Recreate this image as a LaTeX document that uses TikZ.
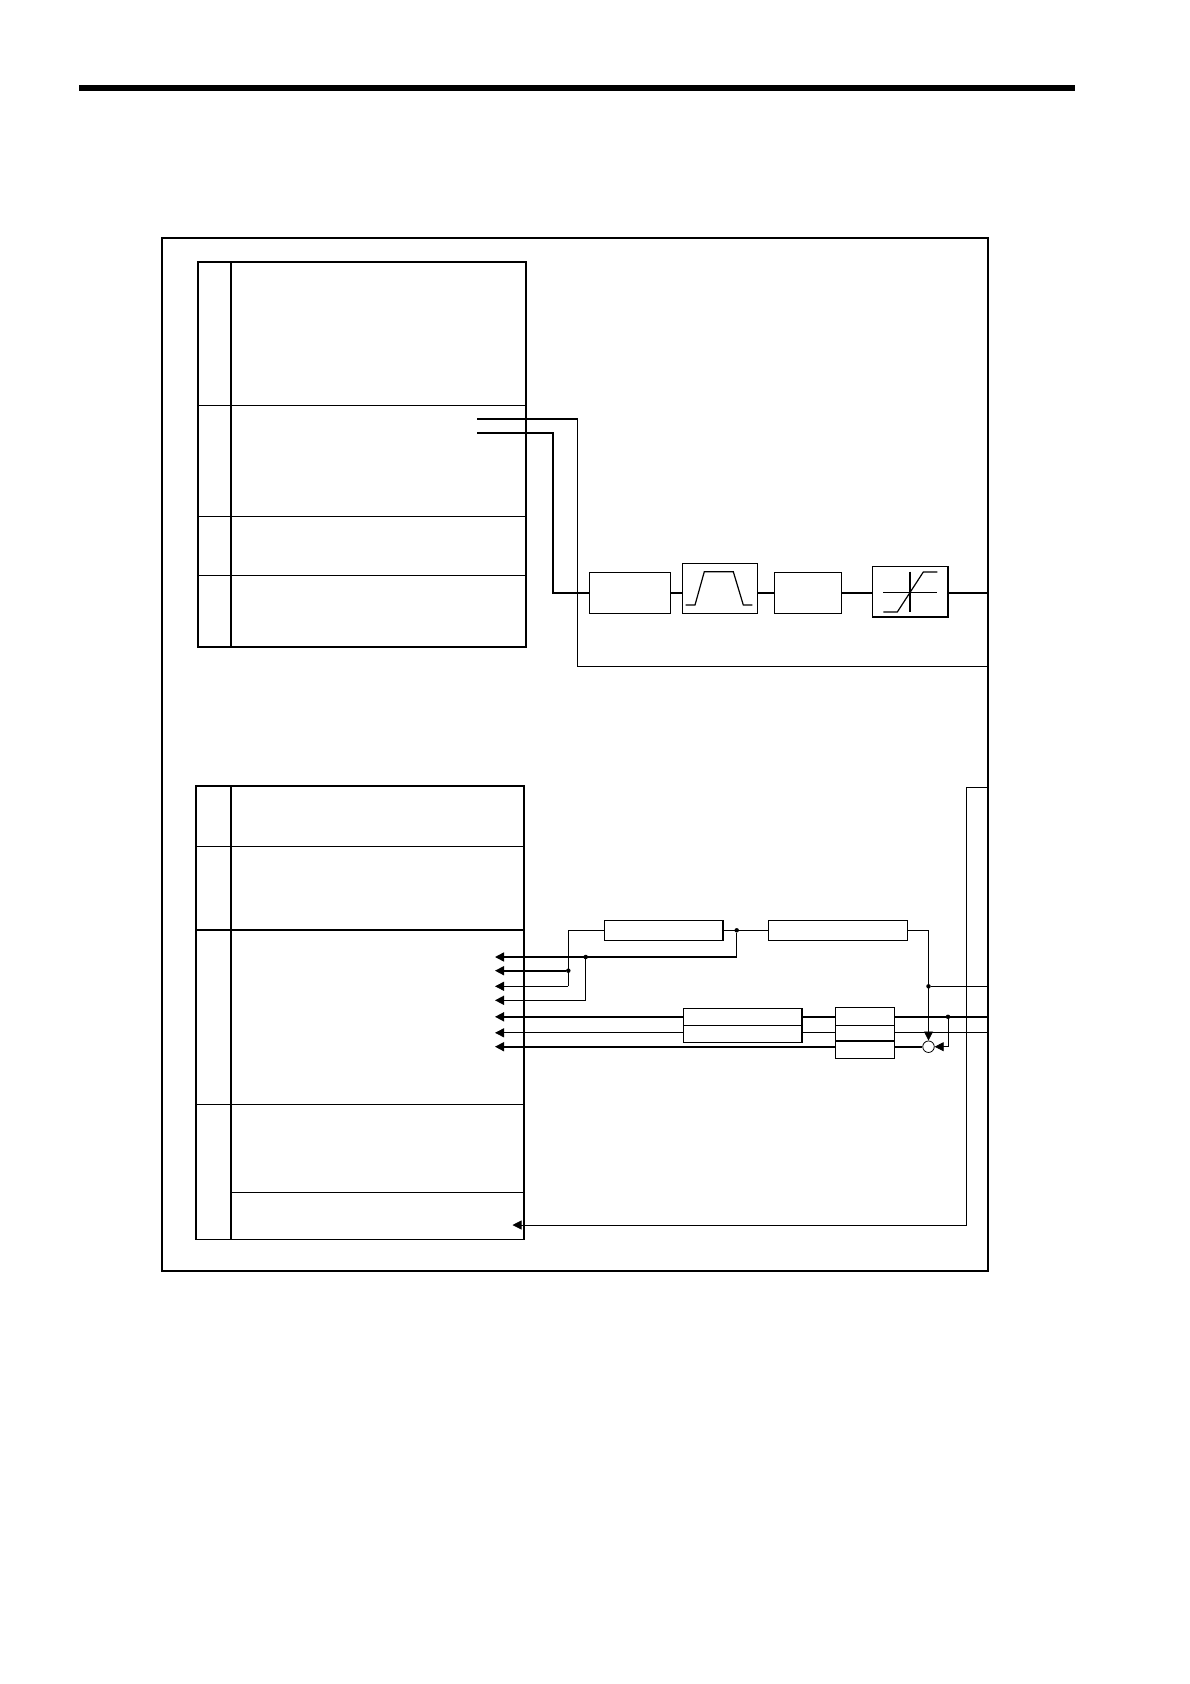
\documentclass[tikz,border=0pt]{standalone}
\usetikzlibrary{arrows.meta}
\begin{document}
\begin{tikzpicture}[x=1pt,y=-1pt,
  thk/.style={line width=1.6pt},
  thn/.style={line width=0.8pt},
  med/.style={line width=1.2pt},
  blk/.style={draw, line width=1.2pt, inner sep=0pt, outer sep=0pt},
  dot/.style={circle, fill, inner sep=0pt, minimum size=4.5pt},
  arr/.style={-{Triangle[length=9pt,width=9pt]}},
  line join=miter]
\useasboundingbox (0,0) rectangle (1190,1684);
% top rule
\draw[line width=6pt] (79,88) -- (1075,88);
% outer frame
\node[draw, thk, inner sep=0pt, outer sep=0pt, minimum width=826pt, minimum height=1033pt, anchor=north west] (frame) at (162,238) {};
% ---------------- upper module ----------------
\node[draw, thk, inner sep=0pt, outer sep=0pt, minimum width=328pt, minimum height=385pt, anchor=north west] (um) at (198,262) {};
\draw[thk] (231,262) -- (231,647);
\draw[thn] (198,405) -- (526,405);
\draw[thn] (198,516) -- (526,516);
\draw[thn] (198,575.3) -- (526,575.3);
\coordinate (s1) at (477,419);
\coordinate (s2) at (477,432.7);
\coordinate (k1) at (577.7,419);
\coordinate (k2) at (553,432.7);
\coordinate (sig) at (0,593.3);
\coordinate (fb) at (0,666);
% chain blocks
\node[blk, minimum width=81pt, minimum height=41pt] (b1) at (629.8,592.8) {};
\node[blk, line width=0.8pt, minimum width=75.4pt, minimum height=50pt] (b2) at (720,588.3) {};
\node[blk, minimum width=66.6pt, minimum height=41pt] (b3) at (808,592.8) {};
\node[blk, line width=1.6pt, minimum width=75.4pt, minimum height=50.3pt] (b4) at (910,591.8) {};
% trapezoid
\draw[med] (685.7,605) -- (695,605) -- (704.3,571.7) -- (733.3,571.7) -- (743.3,605) -- (752.3,605);
% saturation
\draw[med] (883.3,592.7) -- (937.3,592.7);
\draw[med] (910,571.7) -- (910,611.7);
\draw[med] (883.3,612) -- (897.3,612) -- (923.3,572) -- (937.3,572);
% lines
\draw[thk] (s1) -- (k1);
\draw[thn] (k1) -- (k1 |- fb) -- (frame.east |- fb);
\draw[thk] (s2) -- (k2) -- (k2 |- b1.west) -- (b1.west);
\draw[thk] (b1.east) -- (b2.west |- b1.east);
\draw[thk] (b2.east |- b1.east) -- (b3.west);
\draw[thk] (b3.east) -- (b4.west |- b3.east);
\draw[thk] (b4.east |- b3.east) -- (frame.east |- b3.east);
% ---------------- lower module ----------------
\node[draw, thk, inner sep=0pt, outer sep=0pt, minimum width=328pt, minimum height=453.3pt, anchor=north west] (lm) at (196,786) {};
\draw[thk] (231,786) -- (231,1239.3);
\draw[thn] (196,846.3) -- (524,846.3);
\draw[med] (196,930) -- (524,930);
\draw[thn] (196,1104) -- (524,1104);
\draw[thn] (231,1192.3) -- (524,1192.3);
% rows
\coordinate (r1) at (0,957);
\coordinate (r2) at (0,970.7);
\coordinate (r3) at (0,986.3);
\coordinate (r4) at (0,1000.3);
\coordinate (r5) at (0,1016.8);
\coordinate (r6) at (0,1032.8);
\coordinate (r7) at (0,1046.7);
\coordinate (t1) at (495,957);
\coordinate (t2) at (495,970.7);
\coordinate (t3) at (495,986.3);
\coordinate (t4) at (495,1000.3);
\coordinate (t5) at (495,1016.8);
\coordinate (t6) at (495,1032.8);
\coordinate (t7) at (495,1046.7);
\coordinate (t8) at (512.5,1225);
% blocks
\node[blk, minimum width=118.7pt, minimum height=20pt] (A) at (663.7,930.3) {};
\node[blk, minimum width=139pt, minimum height=20pt] (B) at (837.8,930.3) {};
\node[blk, minimum width=118.7pt, minimum height=34pt] (C) at (742.7,1025.3) {};
\draw[thn] (C.west) -- (C.east);
\node[blk, minimum width=58.6pt, minimum height=50.6pt] (D) at (865,1033) {};
\draw[thn] (D.west |- 0,1025.3) -- (D.east |- 0,1025.3);
\draw[thk] (D.west |- 0,1041) -- (D.east |- 0,1041);
\node[circle, draw, thn, inner sep=0pt, minimum size=11.5pt] (S) at (928.5,1046.7) {};
% junction coordinates
\coordinate (c0) at (568.3,930.3);
\node[dot] (d1) at (736.7,930.3) {};
\node[dot] (d2) at (585.7,957) {};
\node[dot] (d3) at (568.3,970.7) {};
\node[dot] (d4) at (928.5,986.3) {};
\node[dot] (d5) at (948,1016.8) {};
\coordinate (k3) at (928.5,930.3);
% top branch
\draw[thk] (c0) -- (A.west);
\draw[thk] (A.east) -- (B.west);
\draw[thk] (B.east) -- (k3);
\draw[thn, arr] (k3) -- (S.north);
\draw[thn] (d4) -- (frame.east |- d4);
\draw[thn] (c0) -- (c0 |- r3);
\draw[thn, arr] (c0 |- r3) -- (t3);
\draw[thk, arr] (d3) -- (t2);
\draw[thn] (d1) -- (d1 |- r1);
\draw[thk, arr] (d1 |- r1) -- (t1);
\draw[thn] (d2) -- (d2 |- r4);
\draw[thk, arr] (d2 |- r4) -- (t4);
% row 5
\draw[thk, arr] (C.west |- r5) -- (t5);
\draw[thk] (C.east |- r5) -- (D.west |- r5);
\draw[thk] (D.east |- r5) -- (frame.east |- r5);
\draw[thn, arr] (d5) -- (d5 |- S.east) -- (S.east);
% row 6
\draw[thn, arr] (C.west |- r6) -- (t6);
\draw[thn] (C.east |- r6) -- (D.west |- r6);
\draw[thn] (D.east |- r6) -- (frame.east |- r6);
% row 7
\draw[thk, arr] (D.west |- r7) -- (t7);
\draw[thk] (D.east |- r7) -- (S.west);
% feedback
\coordinate (f1) at (966.7,787.3);
\draw[thn, arr] (frame.east |- f1) -- (f1) -- (f1 |- t8) -- (t8);
\end{tikzpicture}
\end{document}
